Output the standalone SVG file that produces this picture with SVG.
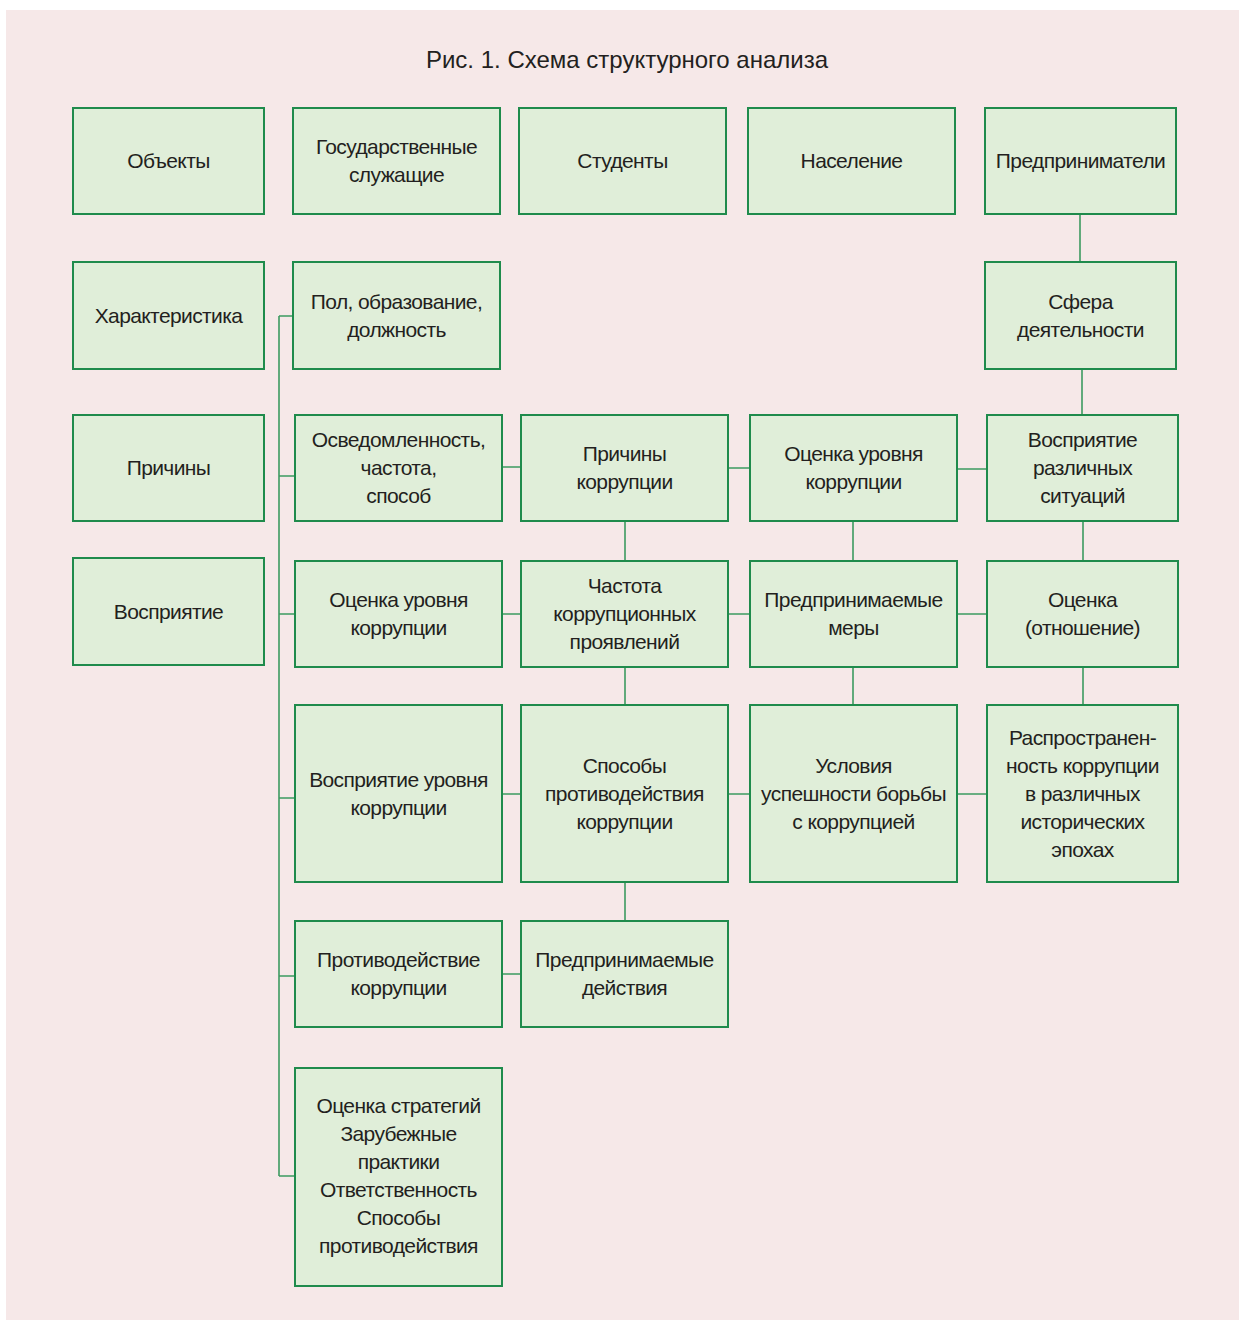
<svg xmlns="http://www.w3.org/2000/svg" width="1239" height="1320" viewBox="0 0 1239 1320">
<style>
.bx{fill:#e0eed9;stroke:#1f8b4c;stroke-width:2}
.t{font-family:"Liberation Sans",Arial,sans-serif;font-size:21px;letter-spacing:-0.6px;fill:#231f20;text-anchor:middle}
.ttl{font-family:"Liberation Sans",Arial,sans-serif;font-size:24px;fill:#231f20;text-anchor:middle}
.c{fill:none;stroke:#3d9a60;stroke-width:1.6}
</style>
<rect x="0" y="0" width="1239" height="1320" fill="#ffffff"/>
<rect x="6" y="10" width="1233" height="1310" fill="#f6e8e8"/>
<text class="ttl" x="627" y="68">Рис. 1. Схема структурного анализа</text>
<g id="connectors">
<path class="c" d="M279,316 V1176 M279,316 H293 M279,476 H295 M279,614 H295 M279,798 H295 M279,976 H295 M279,1176 H295"/>
<path class="c" d="M502,467 H521 M728,468 H750 M957,469 H987 M502,614 H521 M728,614 H750 M957,614 H987 M502,794 H521 M728,794 H750 M957,794 H987 M502,974 H521"/>
<path class="c" d="M1080,214 V262 M1082,369 V415 M1083,521 V561 M1083,667 V705 M625,521 V561 M625,667 V705 M625,882 V921 M853,521 V561 M853,667 V705"/>
</g>
<g id="n-obekty"><rect class="bx" x="73" y="108" width="191" height="106"/><text class="t" x="168.5" y="168">Объекты</text></g>
<g id="n-gos"><rect class="bx" x="293" y="108" width="207" height="106"/><text class="t" x="396.5" y="154">Государственные</text><text class="t" x="396.5" y="182">служащие</text></g>
<g id="n-stud"><rect class="bx" x="519" y="108" width="207" height="106"/><text class="t" x="622.5" y="168">Студенты</text></g>
<g id="n-nas"><rect class="bx" x="748" y="108" width="207" height="106"/><text class="t" x="851.5" y="168">Население</text></g>
<g id="n-pred"><rect class="bx" x="985" y="108" width="191" height="106"/><text class="t" x="1080.5" y="168">Предприниматели</text></g>
<g id="n-har"><rect class="bx" x="73" y="262" width="191" height="107"/><text class="t" x="168.5" y="322.5">Характеристика</text></g>
<g id="n-pol"><rect class="bx" x="293" y="262" width="207" height="107"/><text class="t" x="396.5" y="308.5">Пол, образование,</text><text class="t" x="396.5" y="336.5">должность</text></g>
<g id="n-sfera"><rect class="bx" x="985" y="262" width="191" height="107"/><text class="t" x="1080.5" y="308.5">Сфера</text><text class="t" x="1080.5" y="336.5">деятельности</text></g>
<g id="n-prich"><rect class="bx" x="73" y="415" width="191" height="106"/><text class="t" x="168.5" y="475">Причины</text></g>
<g id="n-osv"><rect class="bx" x="295" y="415" width="207" height="106"/><text class="t" x="398.5" y="447">Осведомленность,</text><text class="t" x="398.5" y="475">частота,</text><text class="t" x="398.5" y="503">способ</text></g>
<g id="n-prichk"><rect class="bx" x="521" y="415" width="207" height="106"/><text class="t" x="624.5" y="461">Причины</text><text class="t" x="624.5" y="489">коррупции</text></g>
<g id="n-ocur1"><rect class="bx" x="750" y="415" width="207" height="106"/><text class="t" x="853.5" y="461">Оценка уровня</text><text class="t" x="853.5" y="489">коррупции</text></g>
<g id="n-vosrs"><rect class="bx" x="987" y="415" width="191" height="106"/><text class="t" x="1082.5" y="447">Восприятие</text><text class="t" x="1082.5" y="475">различных</text><text class="t" x="1082.5" y="503">ситуаций</text></g>
<g id="n-vospr"><rect class="bx" x="73" y="558" width="191" height="107"/><text class="t" x="168.5" y="618.5">Восприятие</text></g>
<g id="n-ocur2"><rect class="bx" x="295" y="561" width="207" height="106"/><text class="t" x="398.5" y="607">Оценка уровня</text><text class="t" x="398.5" y="635">коррупции</text></g>
<g id="n-chast"><rect class="bx" x="521" y="561" width="207" height="106"/><text class="t" x="624.5" y="593">Частота</text><text class="t" x="624.5" y="621">коррупционных</text><text class="t" x="624.5" y="649">проявлений</text></g>
<g id="n-mery"><rect class="bx" x="750" y="561" width="207" height="106"/><text class="t" x="853.5" y="607">Предпринимаемые</text><text class="t" x="853.5" y="635">меры</text></g>
<g id="n-ocotn"><rect class="bx" x="987" y="561" width="191" height="106"/><text class="t" x="1082.5" y="607">Оценка</text><text class="t" x="1082.5" y="635">(отношение)</text></g>
<g id="n-vosur"><rect class="bx" x="295" y="705" width="207" height="177"/><text class="t" x="398.5" y="786.5">Восприятие уровня</text><text class="t" x="398.5" y="814.5">коррупции</text></g>
<g id="n-sposob"><rect class="bx" x="521" y="705" width="207" height="177"/><text class="t" x="624.5" y="772.5">Способы</text><text class="t" x="624.5" y="800.5">противодействия</text><text class="t" x="624.5" y="828.5">коррупции</text></g>
<g id="n-usl"><rect class="bx" x="750" y="705" width="207" height="177"/><text class="t" x="853.5" y="772.5">Условия</text><text class="t" x="853.5" y="800.5">успешности борьбы</text><text class="t" x="853.5" y="828.5">с коррупцией</text></g>
<g id="n-rasp"><rect class="bx" x="987" y="705" width="191" height="177"/><text class="t" x="1082.5" y="744.5">Распространен-</text><text class="t" x="1082.5" y="772.5">ность коррупции</text><text class="t" x="1082.5" y="800.5">в различных</text><text class="t" x="1082.5" y="828.5">исторических</text><text class="t" x="1082.5" y="856.5">эпохах</text></g>
<g id="n-protiv"><rect class="bx" x="295" y="921" width="207" height="106"/><text class="t" x="398.5" y="967">Противодействие</text><text class="t" x="398.5" y="995">коррупции</text></g>
<g id="n-deistv"><rect class="bx" x="521" y="921" width="207" height="106"/><text class="t" x="624.5" y="967">Предпринимаемые</text><text class="t" x="624.5" y="995">действия</text></g>
<g id="n-strat"><rect class="bx" x="295" y="1068" width="207" height="218"/><text class="t" x="398.5" y="1112.5">Оценка стратегий</text><text class="t" x="398.5" y="1140.5">Зарубежные</text><text class="t" x="398.5" y="1168.5">практики</text><text class="t" x="398.5" y="1196.5">Ответственность</text><text class="t" x="398.5" y="1224.5">Способы</text><text class="t" x="398.5" y="1252.5">противодействия</text></g>
</svg>
